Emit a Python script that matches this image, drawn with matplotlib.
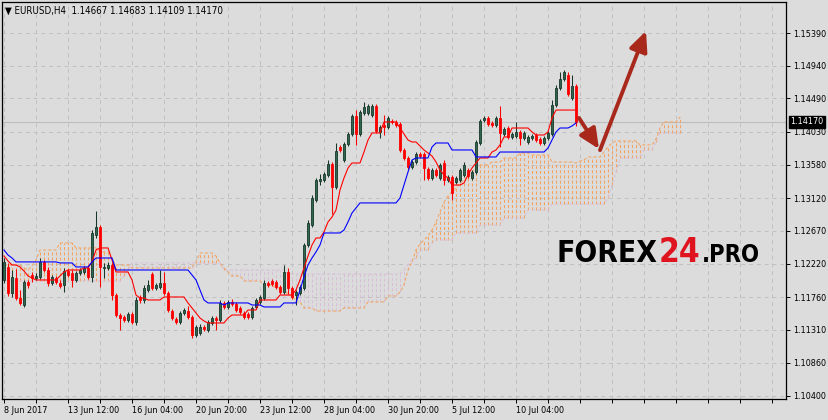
import numpy as np
import matplotlib
matplotlib.use("Agg")
import matplotlib.pyplot as plt

# EURUSD H4, 8 Jun 2017 20:00 .. 11 Jul 2017
opens = [1.11995, 1.12174, 1.11816, 1.12022, 1.11747, 1.11651, 1.11968, 1.12063, 1.12022, 1.12036,
         1.12243, 1.12132, 1.11954, 1.12022, 1.11954, 1.11926, 1.12118, 1.12091, 1.11995, 1.12091,
         1.12105, 1.12160, 1.12036, 1.12613, 1.12723, 1.12160, 1.12160, 1.12201, 1.11788, 1.11513,
         1.11486, 1.11445, 1.11527, 1.11417, 1.11761, 1.11720, 1.11857, 1.12077, 1.11885, 1.11899,
         1.11954, 1.11816, 1.11568, 1.11459, 1.11417, 1.11541, 1.11568, 1.11486, 1.11238, 1.11266,
         1.11348, 1.11307, 1.11404, 1.11472, 1.11445, 1.11679, 1.11624, 1.11693, 1.11665, 1.11610,
         1.11541, 1.11527, 1.11486, 1.11624, 1.11693, 1.11747, 1.11954, 1.11981, 1.11968, 1.11899,
         1.11830, 1.12105, 1.11885, 1.11788, 1.11816, 1.11885, 1.12476, 1.12750, 1.13094, 1.13355,
         1.13369, 1.13438, 1.13589, 1.13273, 1.13823, 1.13644, 1.13865, 1.14002, 1.14249, 1.14002,
         1.14290, 1.14290, 1.14263, 1.14387, 1.14030, 1.14125, 1.14098, 1.14180, 1.14167, 1.14139,
         1.13782, 1.13672, 1.13548, 1.13617, 1.13727, 1.13727, 1.13521, 1.13397, 1.13507, 1.13397,
         1.13603, 1.13369, 1.13410, 1.13342, 1.13369, 1.13438, 1.13507, 1.13397, 1.13479, 1.13878,
         1.14194, 1.14221, 1.14153, 1.14125, 1.14221, 1.14002, 1.14084, 1.13961, 1.13975, 1.14030,
         1.13947, 1.13892, 1.13947, 1.13988, 1.13933, 1.13878, 1.13947, 1.14002, 1.14400, 1.14634,
         1.14758, 1.14813, 1.14497, 1.14667]
highs = [1.12297, 1.12229, 1.12132, 1.12146, 1.11857, 1.11995, 1.11995, 1.12105, 1.12091, 1.12297,
         1.12270, 1.12174, 1.12063, 1.12050, 1.11995, 1.12160, 1.12146, 1.12132, 1.12118, 1.12160,
         1.12188, 1.12188, 1.12682, 1.12943, 1.12750, 1.12229, 1.12243, 1.12229, 1.11816, 1.11541,
         1.11513, 1.11555, 1.11555, 1.11761, 1.11788, 1.11926, 1.11995, 1.12105, 1.11954, 1.12132,
         1.12105, 1.11843, 1.11596, 1.11486, 1.11568, 1.11610, 1.11637, 1.11513, 1.11376, 1.11390,
         1.11376, 1.11445, 1.11500, 1.11500, 1.11720, 1.11706, 1.11720, 1.11734, 1.11693, 1.11637,
         1.11568, 1.11555, 1.11637, 1.11747, 1.11788, 1.11995, 1.11981, 1.12009, 1.11995, 1.11926,
         1.12201, 1.12160, 1.11913, 1.11857, 1.11926, 1.12504, 1.12819, 1.13163, 1.13397, 1.13452,
         1.13479, 1.13644, 1.13617, 1.13878, 1.13851, 1.13892, 1.14030, 1.14276, 1.14331, 1.14331,
         1.14441, 1.14414, 1.14414, 1.14414, 1.14125, 1.14263, 1.14249, 1.14208, 1.14194, 1.14167,
         1.13809, 1.13699, 1.13644, 1.13754, 1.13754, 1.13754, 1.13548, 1.13534, 1.13534, 1.13603,
         1.13644, 1.13438, 1.13438, 1.13424, 1.13534, 1.13617, 1.13534, 1.13507, 1.13919, 1.14208,
         1.14249, 1.14249, 1.14180, 1.14249, 1.14387, 1.14098, 1.14112, 1.14030, 1.14167, 1.14057,
         1.14043, 1.13988, 1.14002, 1.14016, 1.13961, 1.13975, 1.14043, 1.14469, 1.14675, 1.14854,
         1.14881, 1.14854, 1.14813, 1.14683]
lows = [1.11954, 1.11775, 1.11761, 1.11720, 1.11651, 1.11624, 1.11885, 1.11968, 1.11995, 1.12009,
        1.12105, 1.11913, 1.11926, 1.11940, 1.11885, 1.11830, 1.12036, 1.11899, 1.11968, 1.12063,
        1.12077, 1.12009, 1.11968, 1.12572, 1.11899, 1.12022, 1.12132, 1.11720, 1.11486, 1.11307,
        1.11417, 1.11417, 1.11390, 1.11376, 1.11679, 1.11679, 1.11830, 1.11857, 1.11857, 1.11871,
        1.11788, 1.11555, 1.11445, 1.11390, 1.11390, 1.11513, 1.11459, 1.11197, 1.11211, 1.11238,
        1.11293, 1.11280, 1.11376, 1.11307, 1.11417, 1.11596, 1.11596, 1.11637, 1.11555, 1.11527,
        1.11459, 1.11459, 1.11459, 1.11596, 1.11665, 1.11720, 1.11899, 1.11913, 1.11871, 1.11802,
        1.11802, 1.11802, 1.11734, 1.11651, 1.11788, 1.11857, 1.12449, 1.12723, 1.13067, 1.13300,
        1.13341, 1.13410, 1.12902, 1.13245, 1.13754, 1.13617, 1.13837, 1.13975, 1.13851, 1.13975,
        1.14263, 1.14263, 1.14235, 1.14016, 1.13947, 1.13988, 1.14071, 1.14139, 1.14098, 1.13754,
        1.13644, 1.13521, 1.13521, 1.13589, 1.13672, 1.13369, 1.13369, 1.13369, 1.13410, 1.13369,
        1.13300, 1.13342, 1.13094, 1.13314, 1.13342, 1.13410, 1.13397, 1.13369, 1.13452, 1.13851,
        1.14167, 1.14112, 1.14098, 1.14098, 1.13823, 1.13975, 1.13933, 1.13933, 1.13947, 1.13851,
        1.13919, 1.13864, 1.13919, 1.13892, 1.13851, 1.13851, 1.13919, 1.13975, 1.14373, 1.14606,
        1.14730, 1.14524, 1.14469, 1.14109]
closes = [1.12243, 1.11816, 1.12036, 1.11747, 1.11679, 1.11968, 1.11926, 1.12022, 1.12050, 1.12243,
          1.12132, 1.11954, 1.12036, 1.11968, 1.11913, 1.12118, 1.12063, 1.11995, 1.12091, 1.12132,
          1.12160, 1.12036, 1.12641, 1.12723, 1.12174, 1.12174, 1.12201, 1.11788, 1.11513, 1.11472,
          1.11445, 1.11527, 1.11417, 1.11720, 1.11720, 1.11885, 1.11926, 1.11885, 1.11926, 1.11954,
          1.11816, 1.11582, 1.11472, 1.11417, 1.11541, 1.11582, 1.11486, 1.11238, 1.11348, 1.11348,
          1.11321, 1.11417, 1.11472, 1.11445, 1.11679, 1.11624, 1.11693, 1.11665, 1.11582, 1.11555,
          1.11486, 1.11486, 1.11610, 1.11720, 1.11761, 1.11954, 1.11926, 1.11940, 1.11899, 1.11830,
          1.12105, 1.11885, 1.11761, 1.11830, 1.11899, 1.12476, 1.12778, 1.13122, 1.13369, 1.13383,
          1.13452, 1.13589, 1.13273, 1.13768, 1.13782, 1.13865, 1.14002, 1.14249, 1.14002, 1.14304,
          1.14373, 1.14387, 1.14387, 1.14043, 1.14098, 1.14098, 1.14221, 1.14167, 1.14125, 1.13782,
          1.13672, 1.13548, 1.13617, 1.13727, 1.13699, 1.13534, 1.13397, 1.13507, 1.13438, 1.13576,
          1.13369, 1.13410, 1.13191, 1.13397, 1.13507, 1.13576, 1.13424, 1.13479, 1.13892, 1.14180,
          1.14221, 1.14139, 1.14125, 1.14221, 1.14016, 1.14071, 1.13961, 1.14002, 1.14030, 1.13947,
          1.14016, 1.13961, 1.13975, 1.13919, 1.13878, 1.13947, 1.14016, 1.14400, 1.14634, 1.14758,
          1.14854, 1.14551, 1.14661, 1.14170]

# Ichimoku lines
tenkan = [1.12325, 1.12256, 1.12201, 1.12201, 1.12174, 1.12118, 1.12050, 1.12022, 1.11995, 1.11995,
          1.11995, 1.11995, 1.11995, 1.11995, 1.12050, 1.12105, 1.12132, 1.12132, 1.12132, 1.12132,
          1.12160, 1.12160, 1.12243, 1.12407, 1.12435, 1.12435, 1.12435, 1.12270, 1.12105, 1.12105,
          1.12105, 1.12105, 1.11995, 1.11788, 1.11747, 1.11747, 1.11720, 1.11720, 1.11720, 1.11720,
          1.11761, 1.11761, 1.11761, 1.11761, 1.11761, 1.11761, 1.11679, 1.11610, 1.11541, 1.11472,
          1.11431, 1.11404, 1.11404, 1.11404, 1.11404, 1.11404, 1.11472, 1.11513, 1.11513, 1.11513,
          1.11513, 1.11582, 1.11582, 1.11582, 1.11720, 1.11720, 1.11720, 1.11720, 1.11720, 1.11788,
          1.11788, 1.11788, 1.11788, 1.11857, 1.11995, 1.12160, 1.12325, 1.12476, 1.12572, 1.12572,
          1.12655, 1.12792, 1.12860, 1.12957, 1.13232, 1.13397, 1.13534, 1.13603, 1.13603, 1.13603,
          1.13754, 1.13919, 1.14016, 1.14016, 1.14016, 1.14167, 1.14167, 1.14167, 1.14167, 1.14084,
          1.14002, 1.13919, 1.13892, 1.13892, 1.13837, 1.13782, 1.13740, 1.13699, 1.13617, 1.13507,
          1.13438, 1.13397, 1.13300, 1.13300, 1.13300, 1.13328, 1.13438, 1.13534, 1.13603, 1.13672,
          1.13672, 1.13672, 1.13754, 1.13782, 1.13851, 1.13961, 1.13961, 1.14084, 1.14084, 1.14084,
          1.14084, 1.14084, 1.14030, 1.13988, 1.13988, 1.13988, 1.14030, 1.14222, 1.14331, 1.14331,
          1.14331, 1.14331, 1.14331, 1.14331]
kijun = [1.12407, 1.12338, 1.12297, 1.12243, 1.12243, 1.12243, 1.12243, 1.12243, 1.12243, 1.12243,
         1.12243, 1.12243, 1.12243, 1.12243, 1.12229, 1.12229, 1.12229, 1.12229, 1.12174, 1.12174,
         1.12174, 1.12174, 1.12243, 1.12297, 1.12297, 1.12297, 1.12297, 1.12297, 1.12132, 1.12132,
         1.12132, 1.12132, 1.12132, 1.12132, 1.12132, 1.12132, 1.12132, 1.12132, 1.12132, 1.12132,
         1.12132, 1.12132, 1.12132, 1.12132, 1.12132, 1.12132, 1.12132, 1.12063, 1.11995, 1.11857,
         1.11720, 1.11679, 1.11679, 1.11679, 1.11679, 1.11651, 1.11679, 1.11679, 1.11679, 1.11679,
         1.11679, 1.11679, 1.11651, 1.11651, 1.11651, 1.11624, 1.11624, 1.11624, 1.11624, 1.11624,
         1.11679, 1.11679, 1.11679, 1.11679, 1.11857, 1.12036, 1.12201, 1.12297, 1.12380, 1.12476,
         1.12641, 1.12641, 1.12641, 1.12641, 1.12641, 1.12682, 1.12792, 1.12916, 1.12985, 1.13054,
         1.13054, 1.13054, 1.13054, 1.13054, 1.13054, 1.13054, 1.13054, 1.13054, 1.13054, 1.13122,
         1.13300, 1.13479, 1.13644, 1.13672, 1.13672, 1.13672, 1.13672, 1.13823, 1.13878, 1.13878,
         1.13878, 1.13878, 1.13782, 1.13782, 1.13782, 1.13782, 1.13782, 1.13782, 1.13686, 1.13686,
         1.13686, 1.13686, 1.13686, 1.13686, 1.13754, 1.13754, 1.13754, 1.13754, 1.13754, 1.13754,
         1.13754, 1.13754, 1.13754, 1.13754, 1.13754, 1.13754, 1.13809, 1.13919, 1.14030, 1.14084,
         1.14084, 1.14084, 1.14112, 1.14153]
# cloud spans, already shifted 26 bars forward (170 points)
span_a = [1.12201, 1.12201, 1.12201, 1.12201, 1.12201, 1.12160, 1.12132, 1.12188, 1.12270, 1.12407,
          1.12407, 1.12407, 1.12407, 1.12407, 1.12504, 1.12504, 1.12504, 1.12504, 1.12435, 1.12435,
          1.12435, 1.12435, 1.12435, 1.12435, 1.12380, 1.12380, 1.12380, 1.12270, 1.12201, 1.12201,
          1.12201, 1.12201, 1.12160, 1.12160, 1.12160, 1.12160, 1.12160, 1.12160, 1.12160, 1.12160,
          1.12160, 1.12160, 1.12160, 1.12160, 1.12160, 1.12160, 1.12160, 1.12160, 1.12243, 1.12366,
          1.12366, 1.12366, 1.12366, 1.12325, 1.12229, 1.12160, 1.12105, 1.12050, 1.12050, 1.12050,
          1.11981, 1.11981, 1.11981, 1.11981, 1.11981, 1.11926, 1.11926, 1.11926, 1.11885, 1.11885,
          1.11885, 1.11788, 1.11788, 1.11693, 1.11693, 1.11610, 1.11610, 1.11610, 1.11568, 1.11568,
          1.11568, 1.11568, 1.11568, 1.11568, 1.11568, 1.11610, 1.11610, 1.11610, 1.11610, 1.11610,
          1.11610, 1.11693, 1.11693, 1.11693, 1.11693, 1.11693, 1.11775, 1.11775, 1.11775, 1.11830,
          1.11926, 1.12132, 1.12243, 1.12407, 1.12490, 1.12545, 1.12600, 1.12682, 1.12792, 1.12930,
          1.13067, 1.13149, 1.13204, 1.13259, 1.13328, 1.13369, 1.13424, 1.13479, 1.13534, 1.13576,
          1.13576, 1.13576, 1.13617, 1.13617, 1.13617, 1.13672, 1.13672, 1.13672, 1.13672, 1.13740,
          1.13740, 1.13740, 1.13713, 1.13713, 1.13713, 1.13713, 1.13713, 1.13617, 1.13617, 1.13617,
          1.13617, 1.13617, 1.13617, 1.13603, 1.13630, 1.13644, 1.13686, 1.13686, 1.13686, 1.13686,
          1.13754, 1.13823, 1.13878, 1.13906, 1.13906, 1.13906, 1.13906, 1.13906, 1.13906, 1.13851,
          1.13851, 1.13851, 1.13851, 1.13933, 1.14084, 1.14167, 1.14167, 1.14167, 1.14167, 1.14235]
span_b = [1.11981, 1.11981, 1.11981, 1.11981, 1.11981, 1.11981, 1.11981, 1.11981, 1.11981, 1.11981,
          1.11981, 1.11981, 1.11981, 1.11981, 1.11981, 1.11981, 1.11981, 1.11981, 1.11981, 1.11981,
          1.11981, 1.11981, 1.11981, 1.11981, 1.11981, 1.11981, 1.11981, 1.11981, 1.11981, 1.11981,
          1.12050, 1.12132, 1.12229, 1.12229, 1.12229, 1.12229, 1.12229, 1.12229, 1.12229, 1.12229,
          1.12229, 1.12229, 1.12229, 1.12229, 1.12229, 1.12229, 1.12229, 1.12229, 1.12229, 1.12229,
          1.12229, 1.12229, 1.12229, 1.12229, 1.12229, 1.12132, 1.12132, 1.12132, 1.12132, 1.12132,
          1.12132, 1.12132, 1.12132, 1.12132, 1.12132, 1.12132, 1.12132, 1.12132, 1.12132, 1.12132,
          1.12132, 1.12077, 1.12077, 1.12077, 1.12077, 1.12077, 1.12077, 1.12077, 1.12077, 1.12077,
          1.12077, 1.12077, 1.12077, 1.12077, 1.12077, 1.12077, 1.12077, 1.12077, 1.12077, 1.12077,
          1.12077, 1.12077, 1.12077, 1.12077, 1.12077, 1.12077, 1.12077, 1.12077, 1.12077, 1.12077,
          1.12132, 1.12215, 1.12270, 1.12297, 1.12407, 1.12407, 1.12407, 1.12504, 1.12545, 1.12545,
          1.12545, 1.12545, 1.12545, 1.12641, 1.12641, 1.12641, 1.12641, 1.12641, 1.12641, 1.12750,
          1.12750, 1.12750, 1.12750, 1.12750, 1.12750, 1.12847, 1.12847, 1.12847, 1.12847, 1.12847,
          1.12847, 1.12957, 1.12957, 1.12957, 1.12957, 1.12957, 1.12957, 1.13039, 1.13039, 1.13039,
          1.13039, 1.13039, 1.13039, 1.13039, 1.13039, 1.13039, 1.13039, 1.13039, 1.13039, 1.13039,
          1.13039, 1.13122, 1.13300, 1.13479, 1.13672, 1.13672, 1.13672, 1.13672, 1.13672, 1.13672,
          1.13782, 1.13782, 1.13782, 1.13892, 1.14016, 1.14016, 1.14016, 1.14016, 1.14016, 1.14016]

price_ticks = [1.15390, 1.14940, 1.14490, 1.14030, 1.13580, 1.13120,
               1.12670, 1.12220, 1.11760, 1.11310, 1.10860, 1.10400]
date_labels = ["8 Jun 2017", "13 Jun 12:00", "16 Jun 04:00", "20 Jun 20:00", "23 Jun 12:00",
               "28 Jun 04:00", "30 Jun 20:00", "5 Jul 12:00", "10 Jul 04:00"]
title = "\u25bc EURUSD,H4  1.14667 1.14683 1.14109 1.14170"

# hand drawn forecast arrows (bar index, price)
arrow_down = [(143.75, 1.14222), (148.75, 1.13795)]
arrow_up = [(149.0, 1.13780), (160.5, 1.15417)]

BG = "#dcdcdc"
GRID = "#c0c0c0"
BULL = "#2e6650"
BULL_EDGE = "#173628"
SANDY = "#f4a460"
THISTLE = "#d8bfd8"
ARROW = "#a8281c"

W, H = 829, 420
fig = plt.figure(figsize=(W / 100, H / 100), dpi=100, facecolor=BG)
ax = fig.add_axes([2 / W, 21 / H, 784 / W, 397 / H], facecolor=BG)

o = np.array(opens)
hi = np.array(highs)
lo = np.array(lows)
c = np.array(closes)
idx = np.arange(len(o))
up = c >= o

# cloud
a = np.array(span_a)
b = np.array(span_b)
cidx = np.arange(len(a))
dot = (0, (3, 2))
ax.vlines(cidx, np.minimum(a, b), np.maximum(a, b),
          colors=np.where(a >= b, SANDY, THISTLE), lw=0.75, linestyles=[dot], zorder=1)
ax.plot(cidx, a, color=SANDY, lw=0.75, ls=dot, zorder=1.5)
ax.plot(cidx, b, color=THISTLE, lw=0.75, ls=dot, zorder=1.5)

# candles
ax.vlines(idx, lo, hi, colors=np.where(up, BULL_EDGE, "red"), lw=0.75, zorder=2)
body_h = np.maximum(np.abs(c - o), 0.00012)
ax.bar(idx, body_h, bottom=np.minimum(o, c), width=0.62,
       color=np.where(up, BULL, "red"), edgecolor=np.where(up, BULL_EDGE, "red"),
       linewidth=0.6, zorder=3)

ax.plot(idx, tenkan, color="red", lw=0.8, zorder=4)
ax.plot(idx, kijun, color="blue", lw=0.8, zorder=4)

# last price line + label
ax.axhline(closes[-1], color="#bdbdbd", lw=0.8, zorder=0.5)
ax.annotate("%.5f" % closes[-1], xy=(1, closes[-1]), xycoords=("axes fraction", "data"),
            xytext=(3, 0), textcoords="offset points", ha="left", va="center",
            fontsize=6.5, fontstretch="condensed", color="white", annotation_clip=False,
            bbox=dict(boxstyle="square,pad=0.15", fc="black", ec="black"))

for (x0, y0), (x1, y1) in [arrow_down, arrow_up]:
    ax.annotate("", xy=(x1, y1), xytext=(x0, y0),
                arrowprops=dict(arrowstyle="-|>,head_length=1.2,head_width=0.55",
                                color=ARROW, lw=2.8, mutation_scale=10,
                                shrinkA=0, shrinkB=0), zorder=6)

ax.set_xlim(-0.5, 195.5)
ax.set_ylim(1.103586, 1.158162)

ax.yaxis.tick_right()
ax.set_yticks(price_ticks)
ax.set_yticklabels(["%.5f" % t for t in price_ticks], fontstretch="condensed")
xt = np.arange(0, 196, 8)
ax.set_xticks(xt)
xl = [""] * len(xt)
for k, lab in enumerate(date_labels):
    xl[2 * k] = lab
ax.set_xticklabels(xl, ha="left", fontstretch="condensed")
ax.tick_params(axis="both", direction="out", length=3, width=0.7, colors="black",
               labelsize=6.5, pad=2)
ax.grid(True, color=GRID, lw=0.7, ls=(0, (4, 4)))
ax.set_axisbelow(True)
for s in ax.spines.values():
    s.set_color("black")
    s.set_linewidth(0.9)

fig.text(5 / W, 1 - 11 / H, title, fontsize=7, fontstretch="condensed", va="center", ha="left")

# watermark, pieces placed one after another
wm = dict(fontweight="bold", fontstretch="condensed", ha="left", va="baseline")
pieces = [("FOREX", 21.5, "black"), ("24", 24, "#e0141e"), (".PRO", 17, "black")]
x_px = 557
fig.canvas.draw()
renderer = fig.canvas.get_renderer()
for txt, size, col in pieces:
    t = fig.text(x_px / W, 1 - 262 / H, txt, fontsize=size, color=col, **wm)
    x_px = t.get_window_extent(renderer).x1 + 1

fig.savefig("out.png", dpi=100, facecolor=BG)
